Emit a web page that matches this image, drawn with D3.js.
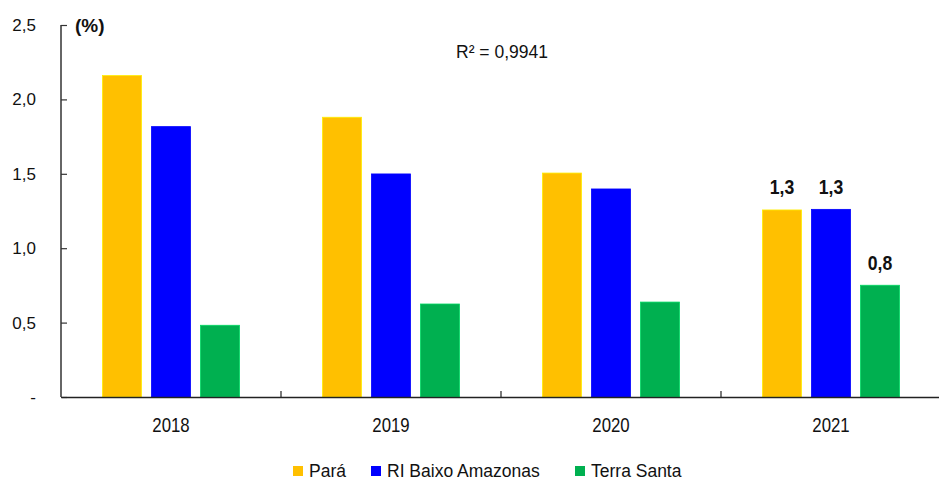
<!DOCTYPE html>
<html><head><meta charset="utf-8">
<script src="https://cdn.jsdelivr.net/npm/d3@7"></script>
<style>body{margin:0;background:#fff}svg{display:block}text{font-family:"Liberation Sans",Arial,sans-serif}</style>
</head><body><div id="chart"></div>
<script>
const categories = ["2018","2019","2020","2021"];
const seriesNames = ["Pará","RI Baixo Amazonas","Terra Santa"];
const para = [2.16, 1.88, 1.505, 1.257];
const riBaixo = [1.817, 1.499, 1.398, 1.261];
const terraSanta = [0.482, 0.625, 0.638, 0.751];
const colors = ["#FFC000","#0000FF","#00B050"];
const yTicks = [0, 0.5, 1.0, 1.5, 2.0, 2.5];
const labels2021 = ["1,3","1,3","0,8"];
const r2Text = "R² = 0,9941";

const W = 939, H = 481;
const m = {left:61, right:-2, top:25, bottom:84};
const svg = d3.select("#chart").append("svg").attr("width",W).attr("height",H);
const x = d3.scaleBand().domain(categories).range([m.left, W - m.right]).padding(0);
const y = d3.scaleLinear().domain([0,2.5]).range([H - m.bottom, m.top]);
const sub = d3.scaleBand().domain(seriesNames).range([-68.5, 68.5]).paddingInner(0.204).paddingOuter(0);
const all = [para, riBaixo, terraSanta];

const g = svg.append("g");
seriesNames.forEach((s, si) => {
  g.selectAll(null).data(categories).enter().append("rect")
    .attr("x", (d,i) => x(d) + x.bandwidth()/2 + sub(s))
    .attr("y", (d,i) => y(all[si][i]))
    .attr("width", sub.bandwidth())
    .attr("height", (d,i) => y(0) - y(all[si][i]))
    .attr("fill", colors[si])
    .attr("stroke", d3.color(colors[si]).brighter(0.6))
    .attr("stroke-width", 0.8);
});

// labels 2021 (condensed bold)
seriesNames.forEach((s, si) => {
  const i = 3;
  const cx = x(categories[i]) + x.bandwidth()/2 + sub(s) + sub.bandwidth()/2;
  const cy = y(all[si][i]) - 15.5;
  svg.append("text")
    .attr("transform", `translate(${cx},${cy}) scale(0.84,1)`)
    .attr("text-anchor","middle").attr("font-weight","bold").attr("font-size",21)
    .attr("fill","#111").text(labels2021[si]);
});

// y axis
const yAxis = d3.axisLeft(y).tickValues(yTicks).tickSize(-6).tickPadding(25)
  .tickFormat(d => d === 0 ? "-" : d3.format(".1f")(d).replace(".",","));
const ya = svg.append("g").attr("transform",`translate(${m.left},0)`).call(yAxis);
ya.select(".domain").attr("stroke","#333").attr("stroke-width",1.5).attr("d",`M-0,${y(2.5)}V${y(0)}`);
ya.selectAll(".tick line").attr("stroke","#333").attr("stroke-width",1.2);
ya.selectAll(".tick text").attr("font-size",17).attr("fill","#111").attr("font-family","Liberation Sans, Arial, sans-serif");

// x axis
const xa = svg.append("g").attr("transform",`translate(0,${y(0)})`)
  .call(d3.axisBottom(x).tickSize(0).tickFormat(""));
xa.select(".domain").attr("stroke","#222").attr("stroke-width",1.5);
svg.append("g").selectAll("text").data(categories).enter().append("text")
  .attr("transform", d => `translate(${x(d) + x.bandwidth()/2},431.5) scale(0.82,1)`)
  .attr("text-anchor","middle").attr("font-size",20.5).attr("fill","#111").text(d => d);
// category separator ticks
svg.append("g").selectAll("line").data(categories.slice(1)).enter().append("line")
  .attr("x1", d => x(d)).attr("x2", d => x(d))
  .attr("y1", y(0)).attr("y2", y(0) - 6)
  .attr("stroke","#222").attr("stroke-width",1.2);

// (%) label
svg.append("text").attr("x",75).attr("y",32).attr("font-weight","bold").attr("font-size",19)
  .attr("fill","#111").text("(%)");
// R2
svg.append("text").attr("x",456).attr("y",58).attr("font-size",17.5).attr("fill","#111").text(r2Text);

// legend
const legX = [293, 371, 575];
const leg = svg.append("g");
seriesNames.forEach((s, i) => {
  leg.append("rect").attr("x", legX[i]).attr("y", 466).attr("width",10).attr("height",10).attr("fill",colors[i]);
  leg.append("text").attr("x", legX[i] + 16).attr("y", 477).attr("font-size",17.5).attr("fill","#111").text(s);
});
</script></body></html>
